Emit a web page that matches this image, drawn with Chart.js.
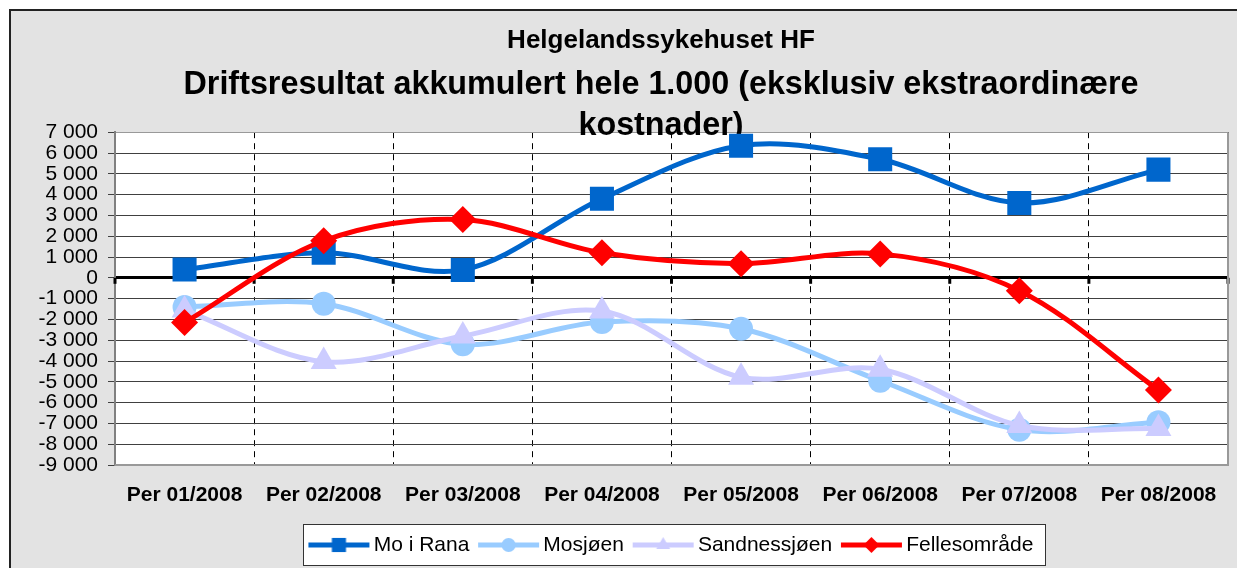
<!DOCTYPE html>
<html>
<head>
<meta charset="utf-8">
<title>Helgelandssykehuset HF</title>
<script src="https://cdn.jsdelivr.net/npm/chart.js@4.4.1/dist/chart.umd.min.js"></script>
<style>
    html, body { margin: 0; padding: 0; background: #fff; overflow: hidden; }
    #frame {
        position: absolute; left: 9px; top: 9px; width: 1313px; height: 559px;
        background: #e3e3e3; border-top: 2px solid #222; border-left: 2px solid #222;
    }
    #holder { position: absolute; left: 0; top: 0; width: 1322px; height: 568px; }
</style>
</head>
<body>
<div id="frame"></div>
<div id="holder"><canvas id="chart" width="1322" height="568"></canvas></div>
<script>
// values (NOK 1.000)
var categories = ['Per 01/2008', 'Per 02/2008', 'Per 03/2008', 'Per 04/2008',
                  'Per 05/2008', 'Per 06/2008', 'Per 07/2008', 'Per 08/2008'];
var moIRana      = [400, 1200, 380, 3800, 6350, 5700, 3600, 5200];
var mosjoen      = [-1400, -1250, -3200, -2130, -2450, -4950, -7300, -6950];
var sandnessjoen = [-1550, -4030, -2800, -1600, -4780, -4400, -7100, -7250];
var fellesomrade = [-2150, 1780, 2800, 1200, 680, 1150, -620, -5400];

var yMin = -9000;
var yMax = 7000;
var yStep = 1000;

var titleText = 'Helgelandssykehuset HF';
var subtitleText = ['Driftsresultat akkumulert hele 1.000 (eksklusiv ekstraordinære', 'kostnader)'];

var FONT = "'Liberation Sans', Arial, Helvetica, sans-serif";
Chart.defaults.font.family = FONT;
Chart.defaults.color = '#000';

var series = [
    {label: 'Mo i Rana', data: moIRana, color: '#0066CC', style: 'rect', radius: 17, legendRadius: 10, order: 4},
    {label: 'Mosjøen', data: mosjoen, color: '#99CCFF', style: 'circle', radius: 12, legendRadius: 7, order: 3},
    {label: 'Sandnessjøen', data: sandnessjoen, color: '#CCCCFF', style: 'triangle', radius: 15, legendRadius: 8, order: 2},
    {label: 'Fellesområde', data: fellesomrade, color: '#FF0000', style: 'rectRot', radius: 13.5, legendRadius: 8, order: 1}
];

function formatThousands(v) {
    var s = String(Math.abs(v)).replace(/\B(?=(\d{3})+(?!\d))/g, ' ');
    return v < 0 ? '-' + s : s;
}

// small line + marker sample used as legend symbol
function makeLegendIcon(s) {
    var c = document.createElement('canvas');
    c.width = 68;
    c.height = 22;
    var ctx = c.getContext('2d');
    ctx.strokeStyle = s.color;
    ctx.lineWidth = 5;
    ctx.beginPath();
    ctx.moveTo(6, 11);
    ctx.lineTo(67, 11);
    ctx.stroke();
    ctx.fillStyle = s.color;
    Chart.helpers.drawPoint(ctx, {pointStyle: s.style, radius: s.legendRadius, rotation: 0, borderWidth: 0}, 36.5, 11);
    return c;
}

var legendIcons = series.map(makeLegendIcon);

var datasets = series.map(function (s) {
    return {
        label: s.label,
        data: s.data,
        order: s.order,
        yAxisID: 'y',
        borderColor: s.color,
        backgroundColor: s.color,
        borderWidth: 5,
        tension: 0.33,
        fill: false,
        pointStyle: s.style,
        pointRadius: s.radius,
        pointHoverRadius: s.radius,
        pointBackgroundColor: s.color,
        pointBorderColor: s.color,
        pointBorderWidth: 0
    };
});

var decorations = {
    id: 'decorations',
    beforeDraw: function (chart) {
        var ctx = chart.ctx;
        var a = chart.chartArea;
        ctx.save();
        ctx.fillStyle = '#fff';
        ctx.fillRect(a.left, a.top, a.right - a.left, a.bottom - a.top);

        // white legend box with a thin border
        var hb = chart.legend.legendHitBoxes;
        if (hb && hb.length) {
            var first = hb[0];
            var last = hb[hb.length - 1];
            var midY = first.top + first.height / 2;
            var left = Math.round(first.left - 7);
            var right = Math.round(last.left + last.width + 12);
            var top = Math.round(midY - 21);
            ctx.fillStyle = '#fff';
            ctx.fillRect(left, top, right - left, 41);
            ctx.strokeStyle = '#333';
            ctx.lineWidth = 1;
            ctx.strokeRect(left + 0.5, top + 0.5, right - left, 41);
        }
        ctx.restore();
    },
    beforeDatasetsDraw: function (chart) {
        var ctx = chart.ctx;
        var a = chart.chartArea;
        var x = chart.scales.x;
        var y = chart.scales.y;
        var y0 = y.getPixelForValue(0);
        ctx.save();
        // small tick marks on the zero line
        ctx.strokeStyle = '#000';
        ctx.lineWidth = 3;
        for (var i = 0; i <= categories.length; i++) {
            var px = x.getPixelForValue(i - 0.5);
            ctx.beginPath();
            ctx.moveTo(px, y0);
            ctx.lineTo(px, y0 + 6);
            ctx.stroke();
        }
        // right and bottom edge of the plot area
        ctx.strokeStyle = '#999';
        ctx.lineWidth = 2;
        ctx.beginPath();
        ctx.moveTo(a.right, a.top);
        ctx.lineTo(a.right, a.bottom);
        ctx.lineTo(a.left, a.bottom);
        ctx.stroke();
        ctx.restore();
    }
};

new Chart(document.getElementById('chart'), {
    type: 'line',
    data: {
        labels: categories,
        datasets: datasets
    },
    plugins: [decorations],
    options: {
        responsive: false,
        animation: false,
        events: [],
        layout: {
            padding: {left: 0, right: 0, top: 0, bottom: 2.5}
        },
        scales: {
            x: {
                type: 'category',
                offset: true,
                grid: {
                    offset: true,
                    color: '#000',
                    lineWidth: 1,
                    drawTicks: false
                },
                border: {display: false, dash: [6, 5]},
                ticks: {
                    font: {size: 21, weight: 'bold'},
                    color: '#000',
                    padding: 18,
                    maxRotation: 0,
                    autoSkip: false
                },
                afterFit: function (s) { s.height = 59.5; }
            },
            y: {
                position: 'left',
                min: yMin,
                max: yMax,
                grid: {
                    color: function (c) {
                        var v = c.tick ? c.tick.value : null;
                        if (v === 0) return '#000';
                        if (v === yMax || v === yMin) return '#999';
                        return '#404040';
                    },
                    lineWidth: function (c) {
                        return c.tick && c.tick.value === 0 ? 3 : 1;
                    },
                    tickLength: 7,
                    tickColor: '#404040',
                    tickWidth: 1
                },
                border: {display: true, color: '#808080', width: 2},
                ticks: {
                    stepSize: yStep,
                    autoSkip: false,
                    font: {size: 21},
                    color: '#000',
                    padding: 10,
                    callback: function (v) { return formatThousands(v); }
                },
                afterFit: function (s) { s.width = 115; }
            },
            // empty space on the right (outside the window) so the titles centre like the original
            spacer: {
                type: 'linear',
                position: 'right',
                display: true,
                grid: {display: false},
                border: {display: false},
                ticks: {display: false},
                afterFit: function (s) { s.width = 94; }
            }
        },
        plugins: {
            title: {
                display: true,
                text: titleText,
                color: '#000',
                font: {size: 26, weight: 'bold'},
                padding: {top: 25, bottom: 8}
            },
            subtitle: {
                display: true,
                text: subtitleText,
                color: '#000',
                font: {size: 32.3, weight: 'bold', lineHeight: 41 / 32.3},
                padding: {top: 0, bottom: -14}
            },
            legend: {
                position: 'bottom',
                fullSize: false,
                labels: {
                    usePointStyle: true,
                    pointStyleWidth: 53.5,
                    padding: 10,
                    color: '#000',
                    font: {size: 21},
                    generateLabels: function (chart) {
                        var items = Chart.defaults.plugins.legend.labels.generateLabels(chart);
                        items.sort(function (p, q) { return p.datasetIndex - q.datasetIndex; });
                        items.forEach(function (item) {
                            item.pointStyle = legendIcons[item.datasetIndex];
                        });
                        return items;
                    }
                }
            },
            tooltip: {enabled: false}
        }
    }
});
</script>
</body>
</html>
